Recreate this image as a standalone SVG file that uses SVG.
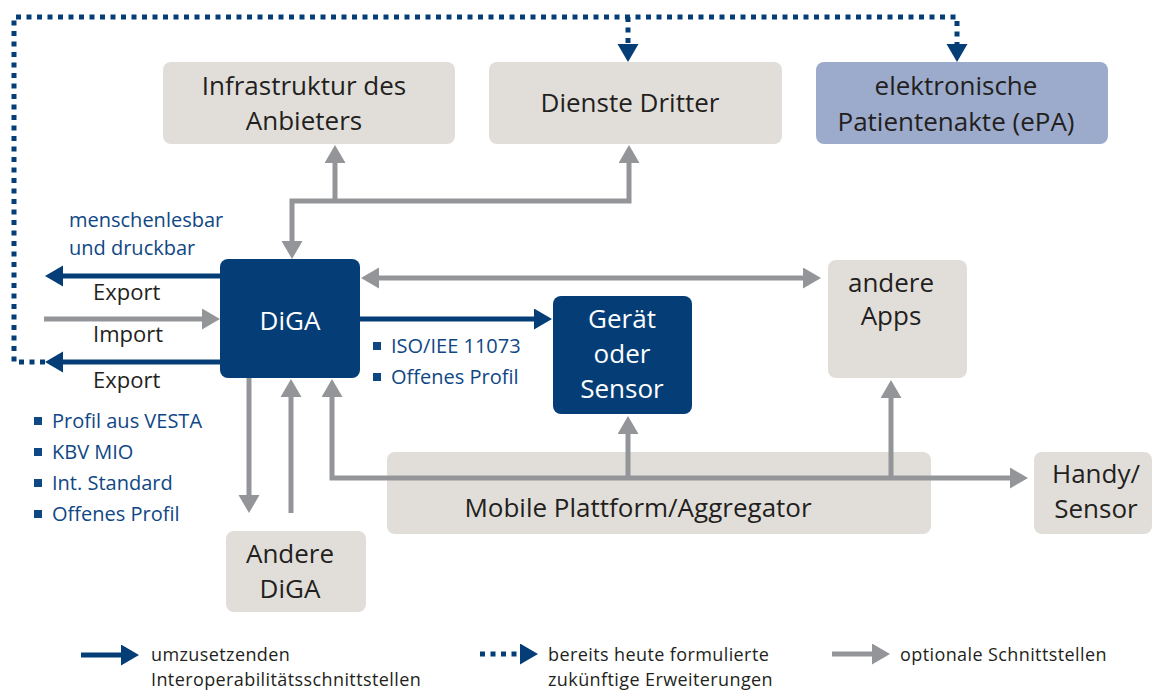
<svg xmlns="http://www.w3.org/2000/svg" width="1161" height="692" viewBox="0 0 1161 692">
<style>
.box{fill:#e1deda}
.dark{fill:#053e77}
.epa{fill:#9cabcc}
.t{font-family:"Open Sans","Liberation Sans",sans-serif;fill:#231f20}
.big{font-size:26px}
.mid{font-size:22px}
.sm{font-size:20px}
.leg{font-size:18px;letter-spacing:0.4px}
.w{fill:#ffffff}
.b{fill:#0f4785}
.gl{fill:none;stroke:#939598;stroke-width:5}
.bl{fill:none;stroke:#053e77;stroke-width:5}
.dl{fill:none;stroke:#053e77;stroke-width:5;stroke-dasharray:5 5.5}
</style>
<defs>
<marker id="ag" markerUnits="userSpaceOnUse" markerWidth="20" markerHeight="22" refX="1" refY="10.5" orient="auto-start-reverse" viewBox="0 0 20 22"><path d="M0,0 L18,10.5 L0,21 z" fill="#939598"/></marker>
<marker id="ab" markerUnits="userSpaceOnUse" markerWidth="20" markerHeight="22" refX="1" refY="10.5" orient="auto-start-reverse" viewBox="0 0 20 22"><path d="M0,0 L18,10.5 L0,21 z" fill="#053e77"/></marker>
</defs>

<g id="infrastruktur">
<rect class="box" x="163" y="62" width="292" height="82" rx="8"/>
<text class="t big" x="304" y="95" text-anchor="middle">Infrastruktur des</text>
<text class="t big" x="304" y="130" text-anchor="middle">Anbieters</text>
</g>
<g id="dienste">
<rect class="box" x="489" y="62" width="293" height="82" rx="8"/>
<text class="t big" x="630" y="112" text-anchor="middle">Dienste Dritter</text>
</g>
<g id="epa">
<rect class="epa" x="816" y="62" width="292" height="82" rx="8"/>
<text class="t big" x="956" y="95" text-anchor="middle">elektronische</text>
<text class="t big" x="956" y="131" text-anchor="middle">Patientenakte (ePA)</text>
</g>
<g id="diga">
<rect class="dark" x="220" y="259" width="140" height="119" rx="8"/>
<text class="t big w" x="290" y="330" text-anchor="middle">DiGA</text>
</g>
<g id="geraet">
<rect class="dark" x="553" y="296" width="139" height="118" rx="8"/>
<text class="t big w" x="622" y="328" text-anchor="middle">Gerät</text>
<text class="t big w" x="622" y="363" text-anchor="middle">oder</text>
<text class="t big w" x="622" y="398" text-anchor="middle">Sensor</text>
</g>
<g id="apps">
<rect class="box" x="828" y="260" width="139" height="118" rx="8"/>
<text class="t big" x="891" y="292" text-anchor="middle">andere</text>
<text class="t big" x="891" y="325" text-anchor="middle">Apps</text>
</g>
<g id="mobile">
<rect class="box" x="387" y="452" width="544" height="82" rx="8"/>
<text class="t big" x="638" y="517" text-anchor="middle">Mobile Plattform/Aggregator</text>
</g>
<g id="handy">
<rect class="box" x="1034" y="452" width="118" height="82" rx="8"/>
<text class="t big" x="1096" y="483" text-anchor="middle">Handy/</text>
<text class="t big" x="1096" y="518" text-anchor="middle">Sensor</text>
</g>
<g id="anderediga">
<rect class="box" x="226" y="531" width="140" height="81" rx="8"/>
<text class="t big" x="290" y="563" text-anchor="middle">Andere</text>
<text class="t big" x="290" y="598" text-anchor="middle">DiGA</text>
</g>

<g id="connectors">
<path class="dl" d="M45,362 H14 V17 H957 V45" marker-end="url(#ab)"/>
<path class="dl" d="M628,17 V45" marker-end="url(#ab)"/>
<path class="bl" d="M220,276 H62" marker-end="url(#ab)"/>
<path class="bl" d="M220,362 H62" marker-end="url(#ab)"/>
<path class="bl" d="M360,319 H535" marker-end="url(#ab)"/>
<path class="gl" d="M44,319 H203" marker-end="url(#ag)"/>
<path class="gl" d="M378,278 H804" marker-start="url(#ag)" marker-end="url(#ag)"/>
<path class="gl" d="M629,162 V201 H292 V242" marker-start="url(#ag)" marker-end="url(#ag)"/>
<path class="gl" d="M335,201 V162" marker-end="url(#ag)"/>
<path class="gl" d="M249,378 V496" marker-end="url(#ag)"/>
<path class="gl" d="M291,513 V396" marker-end="url(#ag)"/>
<path class="gl" d="M332,396 V478 H1011" marker-start="url(#ag)" marker-end="url(#ag)"/>
<path class="gl" d="M628,478 V433" marker-end="url(#ag)"/>
<path class="gl" d="M891,478 V397" marker-end="url(#ag)"/>
</g>

<g id="labels">
<text class="t sm b" x="69" y="227">menschenlesbar</text>
<text class="t sm b" x="69" y="255">und druckbar</text>
<text class="t mid" x="93" y="300">Export</text>
<text class="t mid" x="93" y="342">Import</text>
<text class="t mid" x="93" y="388">Export</text>
<rect class="b" x="34" y="417" width="8" height="8"/>
<text class="t sm b" x="52" y="428">Profil aus VESTA</text>
<rect class="b" x="34" y="448" width="8" height="8"/>
<text class="t sm b" x="52" y="459">KBV MIO</text>
<rect class="b" x="34" y="479" width="8" height="8"/>
<text class="t sm b" x="52" y="490">Int. Standard</text>
<rect class="b" x="34" y="510" width="8" height="8"/>
<text class="t sm b" x="52" y="521">Offenes Profil</text>
<rect class="b" x="373" y="342" width="8" height="8"/>
<text class="t sm b" x="391" y="353">ISO/IEE 11073</text>
<rect class="b" x="373" y="373" width="8" height="8"/>
<text class="t sm b" x="391" y="384">Offenes Profil</text>
</g>

<g id="legend">
<path class="bl" d="M81,655 H122" marker-end="url(#ab)"/>
<text class="t leg" x="151" y="661">umzusetzenden</text>
<text class="t leg" x="151" y="686">Interoperabilitätsschnittstellen</text>
<path class="dl" d="M480,654 H521" marker-end="url(#ab)"/>
<text class="t leg" x="548" y="661">bereits heute formulierte</text>
<text class="t leg" x="548" y="686">zukünftige Erweiterungen</text>
<path class="gl" d="M832,654 H873" marker-end="url(#ag)"/>
<text class="t leg" x="900" y="661">optionale Schnittstellen</text>
</g>
</svg>
